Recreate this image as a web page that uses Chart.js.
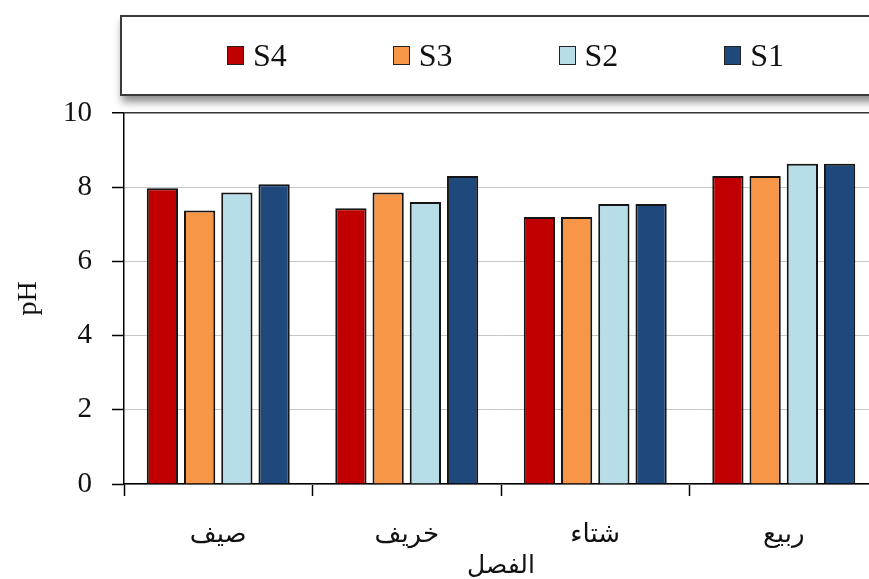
<!DOCTYPE html>
<html>
<head>
<meta charset="utf-8">
<script src="https://cdn.jsdelivr.net/npm/chart.js@4"></script>
<style>
  html, body { margin: 0; padding: 0; background: #fff; overflow: hidden; }
  .wrap { position: relative; width: 890px; height: 579px; }
  .legend {
    position: absolute; left: 120px; top: 15px; width: 767px; height: 77px;
    border: 2px solid #3a3a3a; background: #fff;
    box-shadow: 2px 6px 8px rgba(0,0,0,0.45);
    display: flex; align-items: center; justify-content: center; gap: 106px;
    box-sizing: content-box;
  }
  .item { display: flex; align-items: center; font-family: 'Liberation Serif', serif; font-size: 32px; color: #111; }
  .swatch { width: 15px; height: 17px; border: 1.5px solid #222; margin-right: 9px; }
</style>
</head>
<body>
<div class="wrap">
  <canvas id="chart"></canvas>
  <div class="legend" id="legend"></div>
</div>
<script>
// seasons, left to right
let seasons = ['صيف', 'خريف', 'شتاء', 'ربيع'];

let s4 = [7.97, 7.43, 7.2, 8.3];
let s3 = [7.37, 7.86, 7.2, 8.3];
let s2 = [7.86, 7.6, 7.55, 8.63];
let s1 = [8.08, 8.3, 7.55, 8.63];

let seriesNames = ['S4', 'S3', 'S2', 'S1'];
let seriesColors = ['#C00000', '#F79646', '#B7DEE8', '#1F497D'];
let yTicks = [0, 2, 4, 6, 8, 10];

let values = [s4, s3, s2, s1];

let ctx = document.getElementById('chart').getContext('2d');

let chart = new Chart(ctx, {
    type: 'bar',
    data: {
        labels: seasons,
        datasets: values.map((v, i) => ({
            label: seriesNames[i],
            data: v,
            backgroundColor: seriesColors[i],
            borderColor: '#151515',
            borderWidth: 2,
            categoryPercentage: 0.79,
            barPercentage: 0.84,
        }))
    },
    options: {
        responsive: true,
        maintainAspectRatio: false,
        animation: false,
        layout: { padding: { top: 113, right: 12, left: 0, bottom: 0 } },
        plugins: {
            legend: { display: false },
            tooltip: { enabled: false },
        },
        scales: {
            x: {
                afterFit: (scale) => { scale.height = 95; },
                grid: {
                    offset: true,
                    drawOnChartArea: false,
                    tickLength: 12,
                    tickColor: '#000',
                    tickWidth: 1.5,
                },
                border: { color: '#000', width: 1.5 },
                ticks: {
                    padding: 24,
                    color: '#111',
                    font: { family: 'DejaVu Sans', size: 26 },
                },
                title: {
                    display: true,
                    text: 'الفصل',
                    color: '#111',
                    font: { family: 'DejaVu Sans', size: 25, lineHeight: 1.0 },
                    padding: { top: 0, bottom: 0 },
                },
            },
            y: {
                min: 0,
                max: 10,
                afterFit: (scale) => { scale.width = 124; },
                afterBuildTicks: (scale) => { scale.ticks = yTicks.map(v => ({ value: v })); },
                grid: {
                    color: (c) => c.tick && c.tick.value === 10 ? '#333' : '#c6c6c6',
                    lineWidth: (c) => c.tick && c.tick.value === 10 ? 1.5 : 1,
                    tickLength: 12,
                    tickColor: '#000',
                    tickWidth: 1.5,
                },
                border: { color: '#000', width: 1.5 },
                ticks: {
                    padding: 20,
                    color: '#111',
                    font: { family: 'Liberation Serif', size: 29 },
                },
                title: {
                    display: true,
                    text: 'pH',
                    color: '#111',
                    font: { family: 'Liberation Serif', size: 28 },
                    padding: { top: 12, bottom: 0 },
                },
            },
        },
    }
});

// legend built from the chart's datasets
let legend = document.getElementById('legend');
chart.data.datasets.forEach(ds => {
    let item = document.createElement('div');
    item.className = 'item';
    let sw = document.createElement('span');
    sw.className = 'swatch';
    sw.style.background = ds.backgroundColor;
    item.appendChild(sw);
    item.appendChild(document.createTextNode(ds.label));
    legend.appendChild(item);
});
</script>
</body>
</html>
